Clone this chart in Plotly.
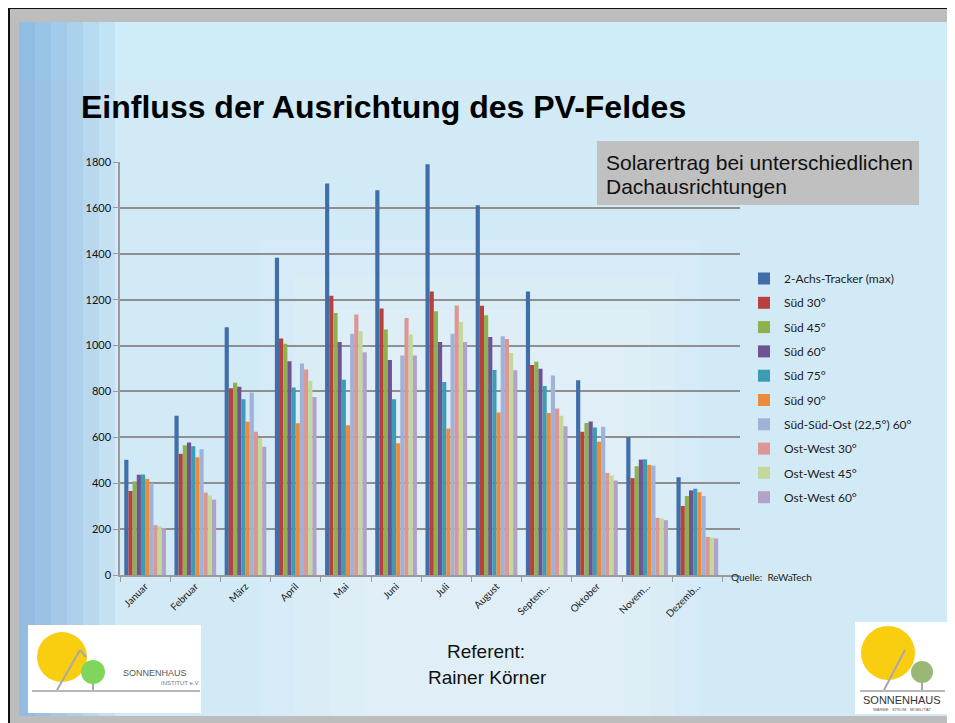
import plotly.graph_objects as go

monate = ['Januar', 'Februar', 'März', 'April', 'Mai', 'Juni', 'Juli', 'August',
          'September', 'Oktober', 'November', 'Dezember']
monat_labels = ['Januar', 'Februar', 'März', 'April', 'Mai', 'Juni', 'Juli', 'August',
                'Septem...', 'Oktober', 'Novem...', 'Dezemb...']

tracker = [502, 694, 1080, 1383, 1706, 1677, 1790, 1612, 1236, 849, 600, 426]
sued_30 = [366, 528, 814, 1031, 1217, 1161, 1236, 1174, 915, 624, 422, 301]
sued_45 = [408, 565, 838, 1008, 1142, 1070, 1149, 1132, 929, 662, 474, 344]
sued_60 = [437, 577, 820, 932, 1016, 937, 1016, 1037, 899, 669, 503, 369]
sued_75 = [438, 561, 766, 817, 851, 766, 841, 893, 824, 643, 504, 376]
sued_90 = [419, 513, 668, 661, 653, 574, 639, 708, 706, 581, 480, 361]
sso_60 = [400, 548, 795, 922, 1051, 957, 1051, 1041, 870, 646, 477, 344]
ow_30 = [217, 359, 624, 896, 1135, 1120, 1175, 1029, 726, 445, 249, 166]
ow_45 = [212, 346, 597, 846, 1063, 1048, 1103, 968, 694, 434, 246, 163]
ow_60 = [205, 328, 559, 776, 971, 957, 1015, 892, 648, 412, 239, 159]

serien = [
    ('2-Achs-Tracker (max)', tracker, '#3f6ea8'),
    ('Süd 30°', sued_30, '#b8403d'),
    ('Süd 45°', sued_45, '#8fb04f'),
    ('Süd 60°', sued_60, '#6e5492'),
    ('Süd 75°', sued_75, '#3b9db5'),
    ('Süd 90°', sued_90, '#ec8a3a'),
    ('Süd-Süd-Ost (22,5°) 60°', sso_60, '#9fb2d8'),
    ('Ost-West 30°', ow_30, '#dc9693'),
    ('Ost-West 45°', ow_45, '#c3d99b'),
    ('Ost-West 60°', ow_60, '#b3a2c8'),
]

# Seite hat 8px Rand, Figur beginnt bei (8, 8) im Fenster
OFF = 8
FIG_W, FIG_H = 955 - OFF, 723 - OFF
# Plotbereich in Fensterpixeln
L, R, T, B = 120, 740, 162, 575
W, H = R - L, B - T


def px(x):
    return (x - L) / W


def py(y):
    return (B - y) / H


fig = go.Figure()
for name, werte, farbe in serien:
    fig.add_trace(go.Bar(x=monate, y=werte, name=name, marker_color=farbe,
                         marker_line_width=0, legendgroup=name))


def rect(x0, y0, x1, y1, fill, **kw):
    d = dict(type='rect', xref='paper', yref='paper', x0=px(x0), x1=px(x1), y0=py(y0), y1=py(y1),
             fillcolor=fill, line_width=0)
    d.update(kw)
    return d


def line(x0, y0, x1, y1, color, width=2):
    return dict(type='line', xref='paper', yref='paper', x0=px(x0), x1=px(x1), y0=py(y0), y1=py(y1),
                line=dict(color=color, width=width))


def circle(cx, cy, r, fill):
    return dict(type='circle', xref='paper', yref='paper', x0=px(cx - r), x1=px(cx + r),
                y0=py(cy - r), y1=py(cy + r), fillcolor=fill, line_width=0)


shapes = []
# Rahmen und Hintergrund der Folie
shapes.append(rect(8, 8, 960, 730, '#bdbdbd', layer='below'))
shapes.append(rect(19, 22, 960, 716, '#d2e9f6', layer='below'))
shapes.append(rect(19, 22, 960, 80, 'rgba(205,240,252,0.6)', layer='below'))
for k in range(6):
    shapes.append(rect(19, 22, 19 + 16 * (k + 1), 716, 'rgba(70,130,195,0.09)', layer='below'))
for k in range(4):
    shapes.append(rect(260 + 35 * k, 240 + 35 * k, 700 - 25 * k, 716, 'rgba(255,255,255,0.10)',
                       layer='below'))
shapes.append(line(9, 8, 960, 8, '#111111', 2))
shapes.append(line(9, 8, 9, 730, '#111111', 2))

# Graue Box oben rechts
shapes.append(rect(597, 141, 919, 205, '#c0c0c0'))

# Logo links
shapes += [
    rect(28, 625, 201, 713, 'white'),
    circle(62, 657, 25, '#f9cd10'),
    circle(93, 672, 12, '#7fd65a'),
    line(57, 690, 80, 650, '#a8a8a8'),
    line(80, 650, 86, 657, '#a8a8a8'),
    line(93, 684, 93, 691, '#a8a8a8'),
    line(32, 691, 200, 691, '#b8b8b8'),
]
# Logo rechts
shapes += [
    rect(855, 622, 949, 714, 'white'),
    circle(888, 653, 27, '#f9cd10'),
    circle(922, 672, 11, '#9ab875'),
    line(884, 690, 905, 650, '#a8a8a8'),
    line(922, 683, 922, 691, '#a8a8a8'),
    line(860, 691, 945, 691, '#b8b8b8'),
]

arial = 'Liberation Sans, Arial'
annotations = [
    dict(text='<b>Einfluss der Ausrichtung des PV-Feldes</b>', x=px(79), y=py(107), xanchor='left',
         yanchor='middle', font=dict(family=arial, size=32, color='black')),
    dict(text='Solarertrag bei unterschiedlichen', x=px(604), y=py(162), xanchor='left',
         yanchor='middle', font=dict(family=arial, size=21, color='#111111')),
    dict(text='Dachausrichtungen', x=px(604), y=py(186), xanchor='left',
         yanchor='middle', font=dict(family=arial, size=21, color='#111111')),
    dict(text='Quelle:  ReWaTech', x=px(729), y=py(577), xanchor='left', yanchor='middle',
         font=dict(family='Lato, Open Sans', size=10, color='#222222')),
    dict(text='Referent:', x=px(486), y=py(651), xanchor='center', yanchor='middle',
         font=dict(family=arial, size=19, color='#111111')),
    dict(text='Rainer Körner', x=px(487), y=py(677), xanchor='center', yanchor='middle',
         font=dict(family=arial, size=19, color='#111111')),
    dict(text='SONNENHAUS', x=px(155), y=py(673), xanchor='center', yanchor='middle',
         font=dict(family=arial, size=9, color='#555555')),
    dict(text='INSTITUT e.V.', x=px(180), y=py(683), xanchor='center', yanchor='middle',
         font=dict(family=arial, size=6, color='#777777')),
    dict(text='SONNENHAUS', x=px(902), y=py(700), xanchor='center', yanchor='middle',
         font=dict(family=arial, size=11, color='#333333')),
    dict(text='WÄRME · STROM · MOBILITÄT', x=px(902), y=py(709), xanchor='center', yanchor='middle',
         font=dict(family=arial, size=4, color='#555555')),
]
for a in annotations:
    a.update(xref='paper', yref='paper', showarrow=False)

fig.update_layout(
    width=FIG_W, height=FIG_H,
    margin=dict(l=L - OFF, r=FIG_W - (R - OFF), t=T - OFF, b=FIG_H - (B - OFF)),
    paper_bgcolor='#d2e9f6',
    plot_bgcolor='rgba(0,0,0,0)',
    barmode='group', bargap=0.17, bargroupgap=0,
    font=dict(family='Lato, Open Sans', size=11, color='#222222'),
    showlegend=True,
    legend=dict(x=px(744), y=py(264), xanchor='left', yanchor='top', bgcolor='rgba(0,0,0,0)',
                font=dict(family='Lato, Open Sans', size=12, color='#222222'),
                traceorder='grouped', tracegroupgap=5.3, itemwidth=30),
    shapes=shapes,
    annotations=annotations,
)
fig.update_xaxes(range=[-0.5, 11.85], tickvals=monate, ticktext=monat_labels, tickangle=-45,
                 tickfont=dict(family='Lato, Open Sans', size=10, color='#222222'),
                 showline=True, linecolor='#9a9a9a', linewidth=1.5, ticks='outside', tickson='boundaries',
                 ticklen=5, tickcolor='#9a9a9a', showgrid=False)
fig.update_yaxes(range=[0, 1800], dtick=200, showgrid=True, gridcolor='#8f8f8f', gridwidth=1.5,
                 showline=True, linecolor='#9a9a9a', linewidth=1.5, ticks='outside', ticklen=5,
                 tickcolor='#9a9a9a', tickfont=dict(family='Lato, Open Sans', size=11, color='#111111'),
                 zeroline=False)

fig.write_html('out.html')
